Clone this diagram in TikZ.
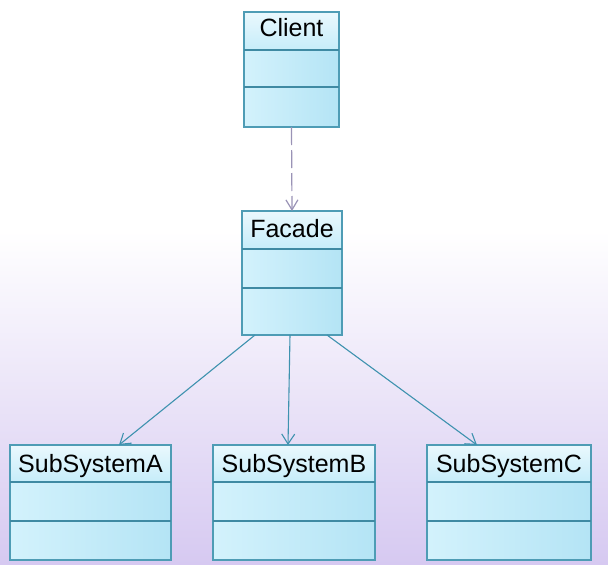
\documentclass[tikz,border=0pt]{standalone}
\usepackage{fontspec}
\setmainfont{Liberation Sans}
\usetikzlibrary{arrows.meta,calc}

\definecolor{boxedge}{HTML}{4E9CB5}
\definecolor{divline}{HTML}{3F8AA3}
\definecolor{boxlight}{HTML}{D3F2FC}
\definecolor{boxdark}{HTML}{B4E4F5}
\definecolor{titletop}{HTML}{EAF8FD}
\definecolor{titlebot}{HTML}{C6EDFA}
\definecolor{assoc}{HTML}{3E92AF}
\definecolor{depend}{HTML}{9A93B6}
\definecolor{bglav}{HTML}{D6C9F1}

\tikzset{
  classbox/.style={draw=boxedge, line width=1.3pt, rectangle, inner sep=0pt, outer sep=0pt},
  divider/.style={draw=divline, line width=1.4pt},
  classtitle/.style={font=\fontsize{25}{28}\selectfont, text=black, inner sep=0pt},
  assocarrow/.style={draw=assoc, line width=1.1pt, -{Straight Barb[length=10pt,width=13pt,line width=1.1pt]}},
  dependarrow/.style={draw=depend, line width=1.2pt, dash pattern=on 18pt off 5pt,
    -{Straight Barb[length=10pt,width=12pt,line width=1.2pt]}}
}

% #1 name, #2 left, #3 top, #4 width, #5 height, #6 first divider, #7 second divider,
% #8 title, #9 baseline offset of the title
\newcommand{\umlclass}[9]{%
  \shade[left color=boxlight, right color=boxdark] (#2,#3) rectangle ++(#4,#5);
  \shade[top color=titletop, bottom color=titlebot] (#2,#3) rectangle ++(#4,#6);
  \node[classbox, minimum width=#4pt, minimum height=#5pt, anchor=north west] (#1) at (#2,#3) {};
  \draw[divider] ($(#1.north west)+(0,#6)$) -- ($(#1.north east)+(0,#6)$);
  \draw[divider] ($(#1.north west)+(0,#7)$) -- ($(#1.north east)+(0,#7)$);
  \node[classtitle, anchor=base] (#1-title) at ($(#1.north)+(0,#9)$) {#8};
}

\begin{document}
\begin{tikzpicture}[x=1pt, y=-1pt]
  \useasboundingbox (0,0) rectangle (608,565);
  % background: white fading into lavender towards the bottom
  \fill[white] (0,0) rectangle (608,565);
  \shade[top color=white, bottom color=bglav] (0,230) rectangle (608,565);

  % classes
  \umlclass{client}{244}{12}{95}{115}{38}{75}{Client}{24}
  \umlclass{facade}{242}{211}{100}{124}{38}{77}{Facade}{26}
  \umlclass{subA}{10}{445}{161}{115}{37}{76}{SubSystemA}{27}
  \umlclass{subB}{213}{445}{162}{115}{37}{76}{SubSystemB}{27}
  \umlclass{subC}{427}{445}{164}{115}{37}{76}{SubSystemC}{27}

  % dependency Client -> Facade
  \draw[dependarrow] (client.south) -- (facade.north);

  % associations Facade -> subsystems
  \draw[assocarrow] ($(facade.south west)+(13,0)$) -- ($(subA.north west)+(109,0)$);
  \draw[assocarrow] ($(facade.south west)+(48,0)$) -- ($(subB.north west)+(75,0)$);
  \draw[assocarrow] ($(facade.south west)+(85,0)$) -- ($(subC.north west)+(50,0)$);
\end{tikzpicture}
\end{document}
